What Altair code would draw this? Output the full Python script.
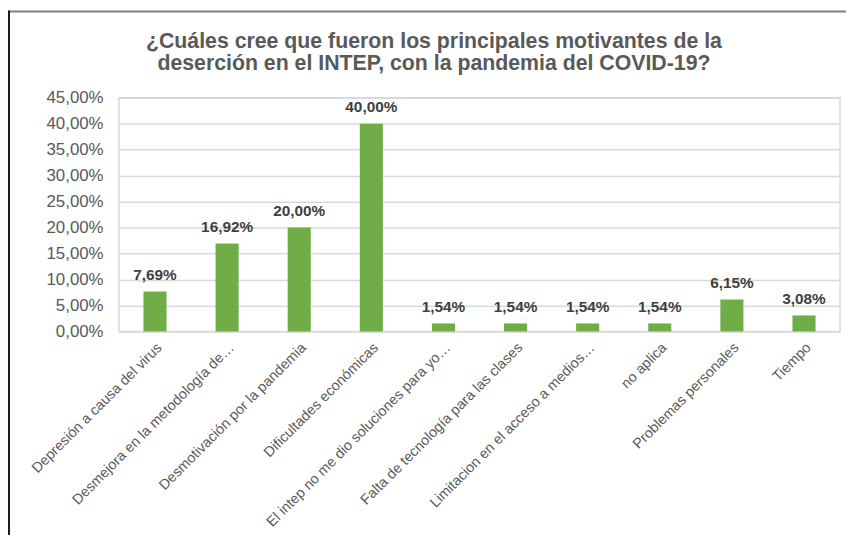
import altair as alt
import pandas as pd

categories = [
    "Depresión a causa del virus",
    "Desmejora en la metodología de…",
    "Desmotivación por la pandemia",
    "Dificultades económicas",
    "El intep no me dio soluciones para yo…",
    "Falta de tecnología para las clases",
    "Limitacion en el acceso a medios…",
    "no aplica",
    "Problemas personales",
    "Tiempo",
]
values = [7.69, 16.92, 20.00, 40.00, 1.54, 1.54, 1.54, 1.54, 6.15, 3.08]
y_ticks = [0, 5, 10, 15, 20, 25, 30, 35, 40, 45]
title_lines = [
    "¿Cuáles cree que fueron los principales motivantes de la",
    "deserción en el INTEP, con la pandemia del COVID-19?",
]

df = pd.DataFrame({"cat": categories, "val": values})
df["lbl"] = [f"{v:.2f}".replace(".", ",") + "%" for v in values]

FONT = "Liberation Sans"
W, H = 728, 236

x_enc = alt.X(
    "cat:N",
    sort=categories,
    scale=alt.Scale(paddingInner=0.68, paddingOuter=0.34),
    axis=alt.Axis(
        title=None,
        labelAngle=-45,
        labelFont=FONT,
        labelFontSize=14.5,
        labelColor="#595959",
        labelPadding=9,
        ticks=False,
        domain=False,
        labelLimit=400,
    ),
)
y_enc = alt.Y(
    "val:Q",
    scale=alt.Scale(domain=[0, 45], nice=False),
    axis=alt.Axis(
        title=None,
        values=y_ticks,
        labelExpr="replace(format(datum.value, '.2f'), '.', ',') + '%'",
        labelFont=FONT,
        labelFontSize=17,
        labelColor="#595959",
        labelPadding=16,
        labelOverlap=False,
        ticks=False,
        domain=False,
        grid=True,
        gridColor="#d9d9d9",
        gridWidth=1.5,
    ),
)

base = alt.Chart(df)
bars = base.mark_bar(color="#70AD47").encode(x=x_enc, y=y_enc)
labels = base.mark_text(
    font=FONT, fontSize=15.5, fontWeight="bold", color="#404040",
    baseline="bottom", dy=-9,
).encode(x=x_enc, y=y_enc, text="lbl:N")

one = alt.Chart(pd.DataFrame({"k": [0]}))
title1 = one.mark_text(
    font=FONT, fontSize=21.5, fontWeight="bold", color="#595959",
    align="center", baseline="alphabetic",
).encode(x=alt.value(318), y=alt.value(-50), text=alt.value(title_lines[0]))
title2 = one.mark_text(
    font=FONT, fontSize=21.5, fontWeight="bold", color="#595959",
    align="center", baseline="alphabetic",
).encode(x=alt.value(318), y=alt.value(-28), text=alt.value(title_lines[1]))

frame_top = one.mark_rule(color="#808080", strokeWidth=2).encode(
    x=alt.value(-112), x2=alt.value(W + 20), y=alt.value(-87)
)
frame_left = one.mark_rule(color="#1a1a1a", strokeWidth=2).encode(
    x=alt.value(-111), y=alt.value(-88), y2=alt.value(H + 220)
)

chart = (
    alt.layer(bars, labels, title1, title2, frame_top, frame_left)
    .properties(
        width=W,
        height=H,
        autosize=alt.AutoSizeParams(type="none"),
        padding={"left": 112, "top": 88, "right": 6, "bottom": 203},
    )
    .configure_view(stroke="#d9d9d9", strokeWidth=1.5)
)

chart.save("out.html", embed_options={"renderer": "svg", "actions": False})
